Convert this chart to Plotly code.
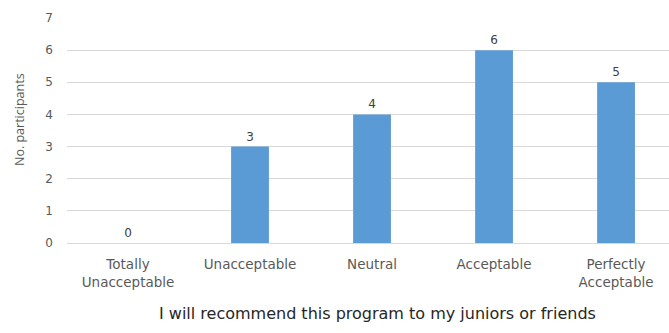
import plotly.graph_objects as go

categories = ["Totally<br>Unacceptable", "Unacceptable", "Neutral", "Acceptable", "Perfectly<br>Acceptable"]
counts = [0, 3, 4, 6, 5]
y_ticks = [0, 1, 2, 3, 4, 5, 6, 7]

FONT = "DejaVu Sans"
GRAY = "#595959"

# plot area in pixels
PLOT_LEFT, PLOT_TOP, PLOT_BOTTOM = 67, 18, 243
PLOT_H = PLOT_BOTTOM - PLOT_TOP
PLOT_W = 669 - PLOT_LEFT

fig = go.Figure(
    go.Bar(
        x=list(range(len(categories))),
        y=counts,
        width=0.31,
        marker=dict(color="#5b9bd5", line=dict(width=0)),
        text=[str(v) for v in counts],
        textposition="outside",
        cliponaxis=False,
        textfont=dict(family=FONT, size=12, color="#404040"),
    )
)

fig.update_layout(
    width=669,
    height=333,
    margin=dict(l=PLOT_LEFT, r=0, t=PLOT_TOP, b=333 - PLOT_BOTTOM),
    paper_bgcolor="white",
    plot_bgcolor="white",
    showlegend=False,
    font=dict(family=FONT, size=12, color=GRAY),
    xaxis=dict(
        tickmode="array",
        tickvals=list(range(len(categories))),
        ticktext=categories,
        range=[-0.5, 4.434],
        showgrid=False,
        showline=True,
        linecolor="#d9d9d9",
        linewidth=1,
        ticks="",
        tickfont=dict(family=FONT, size=13.5, color=GRAY),
        ticklabelstandoff=9,
    ),
    yaxis=dict(
        range=[0, 7],
        tickvals=y_ticks,
        showgrid=True,
        gridcolor="#d9d9d9",
        gridwidth=1,
        zeroline=False,
        showline=False,
        ticks="",
        tickfont=dict(family=FONT, size=12, color=GRAY),
        ticklabelstandoff=13,
    ),
    annotations=[
        dict(
            text="I will recommend this program to my juniors or friends",
            xref="paper", yref="paper",
            x=(377 - PLOT_LEFT) / PLOT_W, y=-(313 - PLOT_BOTTOM) / PLOT_H,
            xanchor="center", yanchor="middle",
            showarrow=False,
            font=dict(family=FONT, size=16, color="#262626"),
        ),
        dict(
            text="No. participants",
            xref="paper", yref="paper",
            x=-(PLOT_LEFT - 19) / PLOT_W, y=(PLOT_BOTTOM - 120) / PLOT_H,
            xanchor="center", yanchor="middle",
            textangle=-90,
            showarrow=False,
            font=dict(family="Open Sans", size=12.5, color=GRAY),
        ),
    ],
)

fig.write_html("out.html")
